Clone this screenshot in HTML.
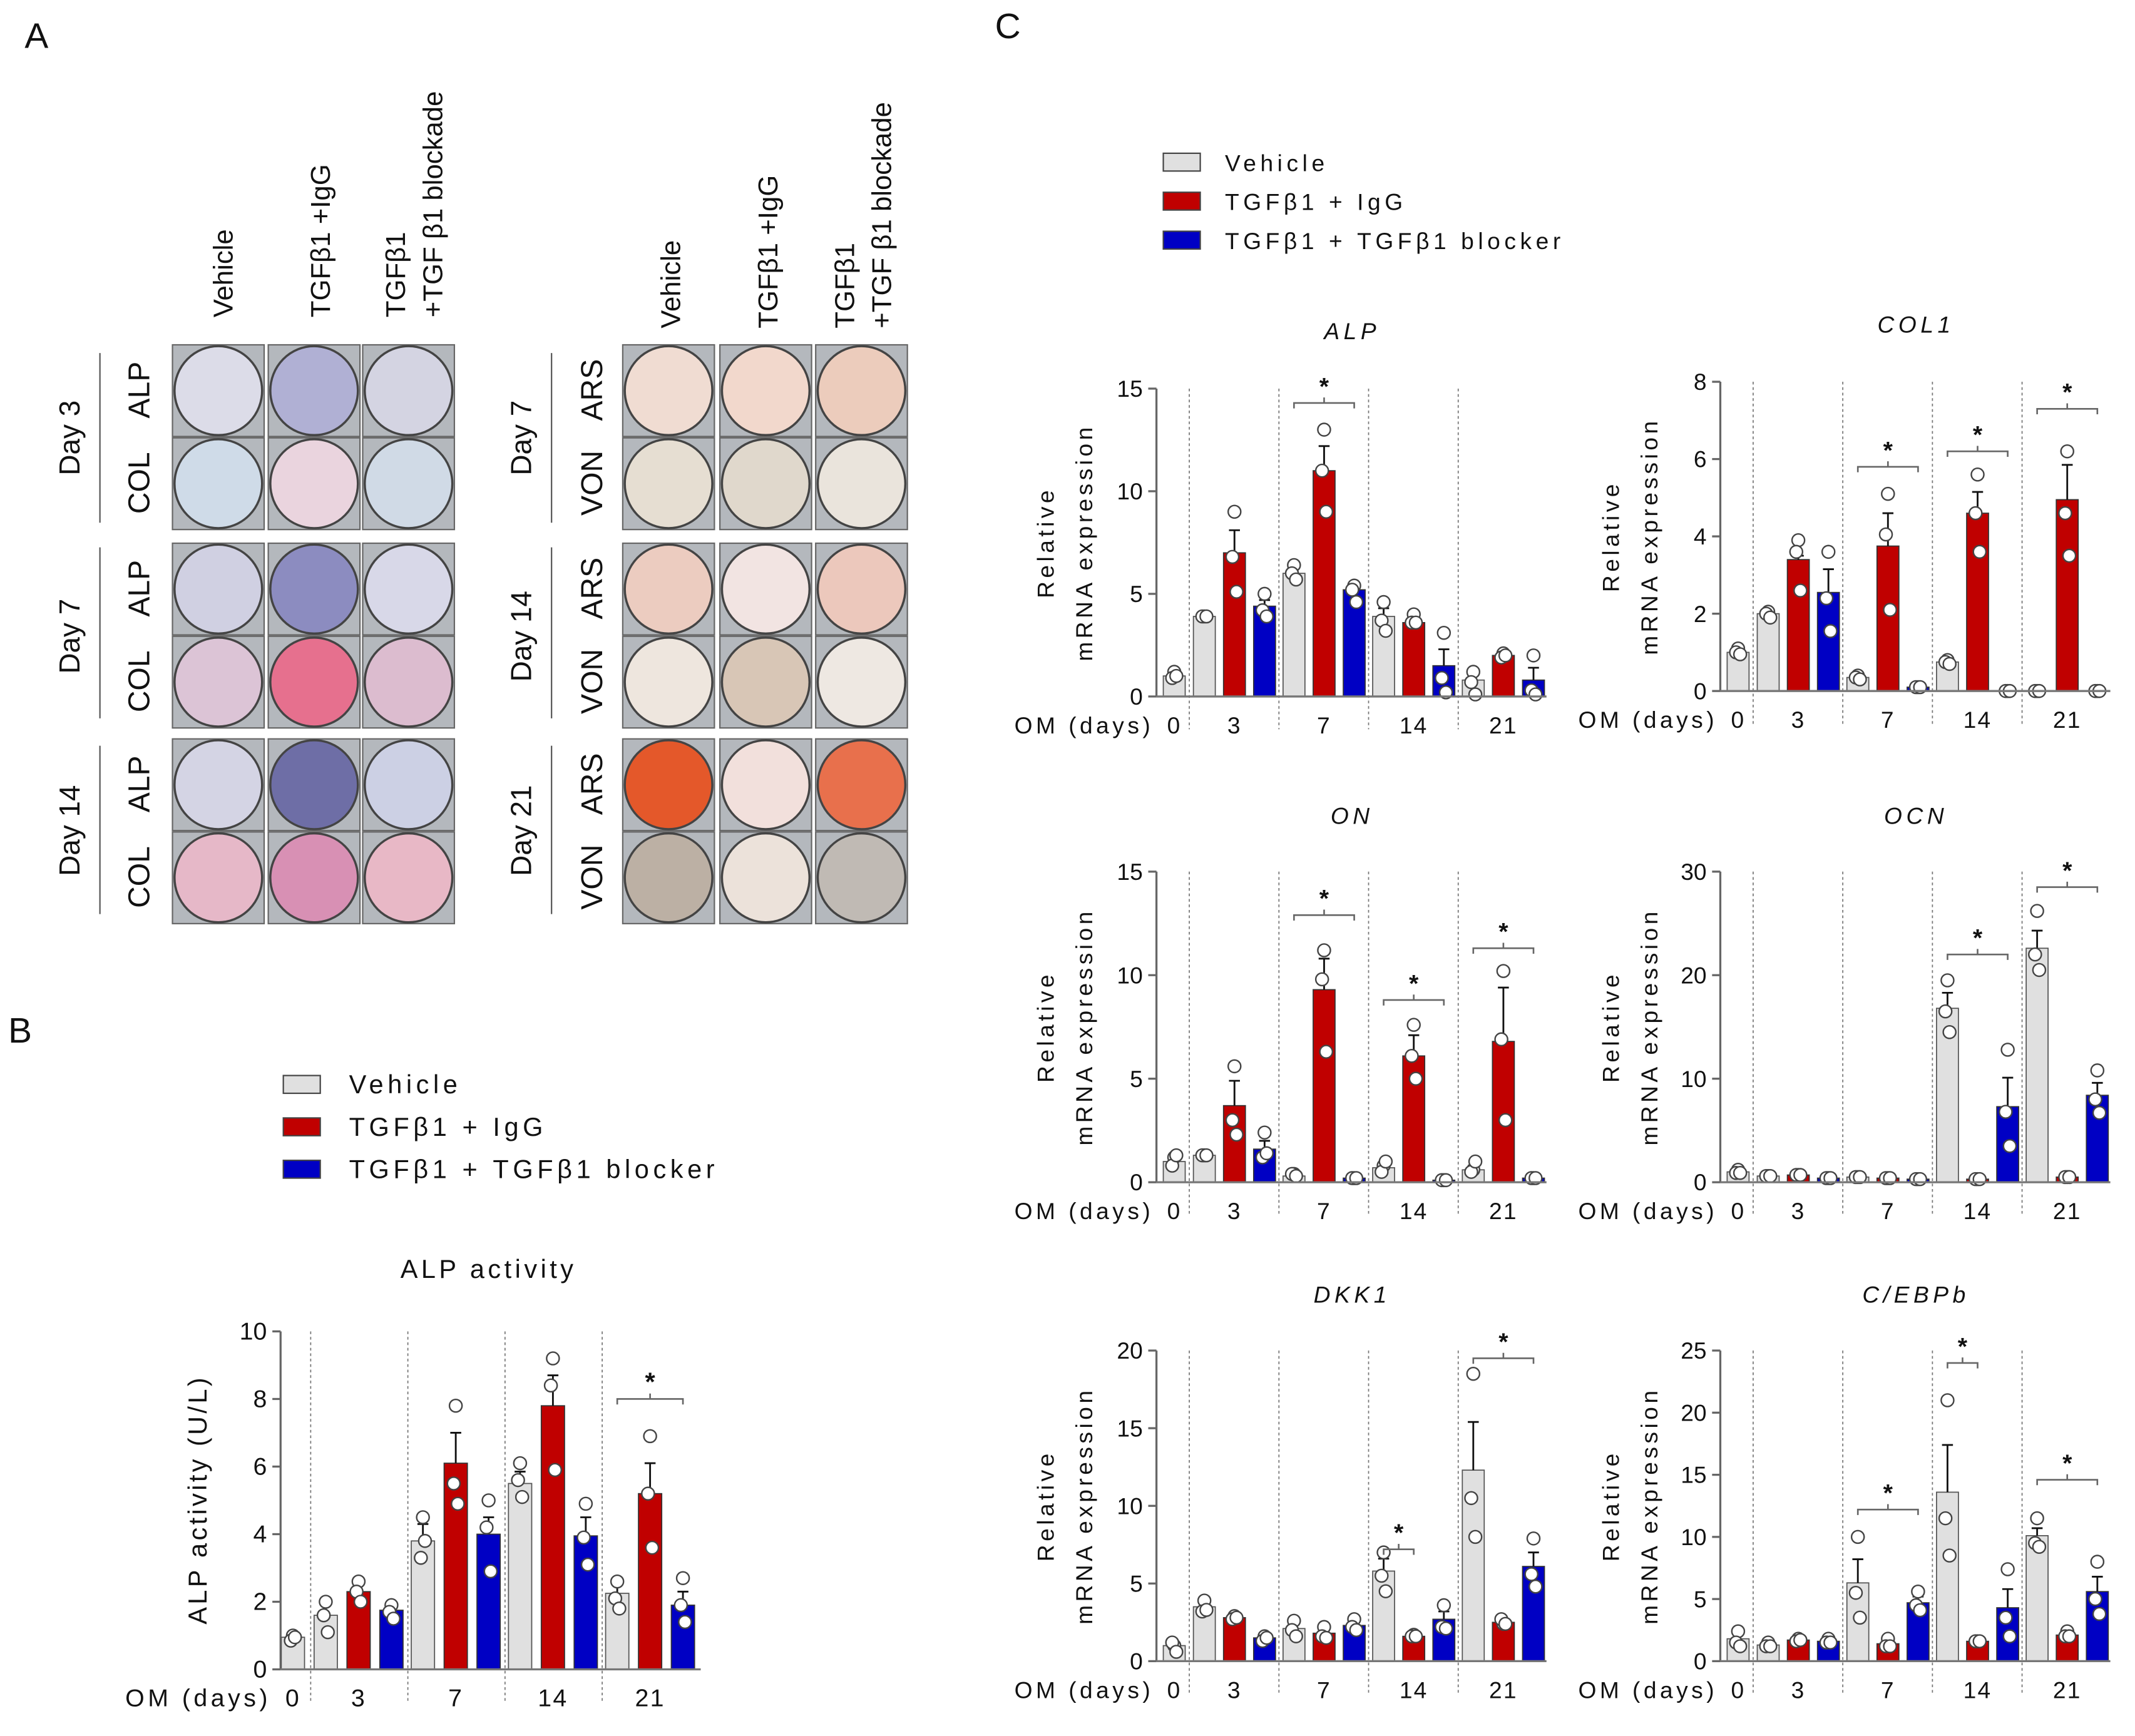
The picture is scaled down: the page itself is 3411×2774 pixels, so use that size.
<!DOCTYPE html>
<html><head><meta charset="utf-8"><style>
html,body{margin:0;padding:0;background:#fff;}
svg{display:block;}
text{font-family:"Liberation Sans",sans-serif;fill:#111;}
</style></head><body>
<svg id="fig" width="3411" height="2774" viewBox="0 0 1560 1268.7" xmlns="http://www.w3.org/2000/svg">
<rect width="1560" height="1269" fill="#fff"/>
<g id="panelA"></g>
<g id="panelB"></g>
<g id="panelC"></g>
</svg>
<script>
// ---------- Panel B data ----------
const groups = ["0","3","7","14","21"];
const bVehicle = [0.95,1.6,3.8,5.5,2.25];
const bIgG = [null,2.3,6.1,7.8,5.2];
const bBlocker = [null,1.75,4.0,3.95,1.9];
const bVehErr = [0.1,0.3,0.5,0.35,0.3];
const bIgGErr = [null,0.3,0.9,0.9,0.9];
const bBlkErr = [null,0.2,0.5,0.55,0.4];
const bVehPts = [[1.0,0.85,0.95],[2.0,1.6,1.1],[4.5,3.3,3.8],[6.1,5.6,5.1],[2.6,2.1,1.8]];
const bIgGPts = [null,[2.6,2.3,2.0],[7.8,5.5,4.9],[9.2,8.4,5.9],[6.9,5.2,3.6]];
const bBlkPts = [null,[1.9,1.7,1.5],[5.0,4.2,2.9],[4.9,3.9,3.1],[2.7,1.9,1.4]];
const bTicks = [0,2,4,6,8,10];
const bSig = [[4,0,2,8.0]];

// ---------- Panel C data ----------
const alpVehicle=[1.0,3.9,6.0,3.9,0.8], alpIgG=[null,7.0,11.0,3.6,2.0], alpBlocker=[null,4.4,5.2,1.5,0.8];
const alpVehErr=[0.2,0.1,0.3,0.4,0.4], alpIgGErr=[null,1.1,1.2,0.2,0.1], alpBlkErr=[null,0.3,0.2,0.8,0.6];
const alpVehPts=[[1.2,0.9,1.0],[3.9,3.9,3.9],[6.4,6.0,5.7],[4.6,3.7,3.2],[1.2,0.7,0.1]];
const alpIgGPts=[null,[9.0,6.8,5.1],[13.0,11.0,9.0],[4.0,3.6,3.6],[2.1,1.9,2.0]];
const alpBlkPts=[null,[5.0,4.2,3.9],[5.4,5.2,4.6],[3.1,0.9,0.2],[2.0,0.3,0.1]];
const alpTicks=[0,5,10,15]; const alpSig=[[2,0,2,14.3]];

const colVehicle=[1.0,2.0,0.35,0.75,0], colIgG=[null,3.4,3.75,4.6,4.95], colBlocker=[null,2.55,0.1,0,0];
const colVehErr=[0.05,0.05,0.05,0.05,0], colIgGErr=[null,0.1,0.85,0.55,0.9], colBlkErr=[null,0.6,0,0,0];
const colVehPts=[[1.1,1.0,0.95],[2.05,2.0,1.9],[0.4,0.35,0.3],[0.8,0.75,0.7],[0,0,0]];
const colIgGPts=[null,[3.9,3.6,2.6],[5.1,4.05,2.1],[5.6,4.6,3.6],[6.2,4.6,3.5]];
const colBlkPts=[null,[3.6,2.4,1.55],[0.1,0.1,0.1],[0,0,0],[0,0,0]];
const colTicks=[0,2,4,6,8]; const colSig=[[2,0,2,5.8],[3,0,2,6.2],[4,0,2,7.3]];

const onVehicle=[1.0,1.3,0.3,0.7,0.6], onIgG=[null,3.7,9.3,6.1,6.8], onBlocker=[null,1.6,0.2,0.1,0.2];
const onVehErr=[0.2,0.1,0.05,0.2,0.2], onIgGErr=[null,1.2,1.5,1.0,2.6], onBlkErr=[null,0.4,0,0,0];
const onVehPts=[[1.2,0.8,1.3],[1.3,1.3,1.3],[0.4,0.4,0.3],[0.8,0.5,1.0],[0.6,0.5,1.0]];
const onIgGPts=[null,[5.6,3.0,2.3],[11.2,9.8,6.3],[7.6,6.1,5.0],[10.2,6.9,3.0]];
const onBlkPts=[null,[2.4,1.2,1.4],[0.2,0.2,0.2],[0.1,0.1,0.1],[0.2,0.2,0.2]];
const onTicks=[0,5,10,15]; const onSig=[[2,0,2,12.9],[3,0,2,8.8],[4,0,2,11.3]];

const ocnVehicle=[1.0,0.6,0.5,16.8,22.6], ocnIgG=[null,0.7,0.4,0.3,0.5], ocnBlocker=[null,0.4,0.3,7.3,8.4];
const ocnVehErr=[0.2,0.1,0.1,1.5,1.7], ocnIgGErr=[null,0.1,0.1,0,0.1], ocnBlkErr=[null,0.1,0,2.8,1.2];
const ocnVehPts=[[1.2,0.9,0.9],[0.6,0.6,0.6],[0.5,0.5,0.5],[19.5,16.5,14.5],[26.2,22.0,20.5]];
const ocnIgGPts=[null,[0.7,0.7,0.7],[0.4,0.4,0.4],[0.3,0.3,0.3],[0.5,0.5,0.5]];
const ocnBlkPts=[null,[0.4,0.4,0.4],[0.3,0.3,0.3],[12.8,6.8,3.5],[10.8,8.0,6.7]];
const ocnTicks=[0,10,20,30]; const ocnSig=[[3,0,2,22],[4,0,2,28.5]];

const dkkVehicle=[1.0,3.5,2.1,5.8,12.3], dkkIgG=[null,2.8,1.8,1.6,2.5], dkkBlocker=[null,1.5,2.3,2.7,6.1];
const dkkVehErr=[0.2,0.3,0.3,0.8,3.1], dkkIgGErr=[null,0.1,0.2,0.1,0.1], dkkBlkErr=[null,0.1,0.2,0.5,0.9];
const dkkVehPts=[[1.0,1.2,0.6],[3.9,3.2,3.3],[2.6,2.0,1.6],[7.0,5.5,4.5],[18.5,10.5,8.0]];
const dkkIgGPts=[null,[2.9,2.7,2.8],[2.2,1.6,1.5],[1.7,1.6,1.6],[2.4,2.7,2.4]];
const dkkBlkPts=[null,[1.6,1.3,1.5],[2.7,2.2,2.0],[3.6,2.2,2.1],[7.9,5.6,4.8]];
const dkkTicks=[0,5,10,15,20]; const dkkSig=[[3,0,1,7.2],[4,0,2,19.5]];

const cebVehicle=[1.8,1.3,6.3,13.6,10.1], cebIgG=[null,1.7,1.4,1.6,2.1], cebBlocker=[null,1.6,4.7,4.3,5.6];
const cebVehErr=[0.4,0.1,1.9,3.8,0.6], cebIgGErr=[null,0.1,0.2,0.1,0.2], cebBlkErr=[null,0.1,0.5,1.5,1.2];
const cebVehPts=[[2.4,1.5,1.2],[1.5,1.2,1.2],[10,5.5,3.5],[21,11.5,8.5],[11.5,9.5,9.2]];
const cebIgGPts=[null,[1.8,1.6,1.7],[1.8,1.2,1.2],[1.6,1.6,1.6],[2.4,2.0,2.0]];
const cebBlkPts=[null,[1.8,1.5,1.5],[5.6,4.5,4.1],[7.4,3.5,2.0],[8.0,5.0,3.8]];
const cebTicks=[0,5,10,15,20,25]; const cebSig=[[2,0,2,12.2],[3,0,1,24],[4,0,2,14.6]];

const NS="http://www.w3.org/2000/svg";
function mk(parent,tag,attrs,txt){const e=document.createElementNS(NS,tag);for(const k in attrs)e.setAttribute(k,attrs[k]);if(txt!==undefined)e.textContent=txt;parent.appendChild(e);return e;}
const FILL=["#e0e0e0","#c00000","#0000c4"];

function drawBars(g,o){
  const ys=v=>o.y0-(v/o.max)*(o.y0-o.yTop);
  const xs=(gi,s)=>gi===0?o.firstX:o.divX0+o.groupW*(gi-1)+o.off+o.pitch*s;
  for(let i=0;i<4;i++){const dx=o.divX0+o.groupW*i;const l=mk(g,'line',{x1:dx,x2:dx,y1:o.yTop,y2:o.y0+24,stroke:'#777','stroke-width':0.8,'stroke-dasharray':'2,2'});
    }
  const ax=mk(g,'line',{x1:o.axisX,x2:o.axisX,y1:o.yTop,y2:o.y0,stroke:'#666','stroke-width':1.5});
  
  o.ticks.forEach(t=>{const y=ys(t);mk(g,'line',{x1:o.axisX-6,x2:o.axisX,y1:y,y2:y,stroke:'#666','stroke-width':1.5});
    const tl=mk(g,'text',{x:o.axisX-10,y:y+6,'text-anchor':'end','font-size':o.fs},String(t));
    });
  for(let gi=0;gi<groups.length;gi++){
    for(let s=0;s<3;s++){
      const v=o.series[s][gi]; if(v===null||v===undefined)continue;
      const cx=xs(gi,s), y=ys(v);
      const r=mk(g,'rect',{x:cx-o.bw/2,y:y,width:o.bw,height:Math.max(0,o.y0-y),fill:FILL[s],stroke:s===0?'#555':'#333','stroke-width':0.8});
      
      
      const e=o.errs[s][gi]; if(e){const ye=ys(v+e);mk(g,'line',{x1:cx,x2:cx,y1:y,y2:ye,stroke:'#111','stroke-width':1.3});mk(g,'line',{x1:cx-4,x2:cx+4,y1:ye,y2:ye,stroke:'#111','stroke-width':1.3});}
      const p=o.pts[s][gi]; if(p){const offs=[0,-1.5,1.5];p.forEach((pv,k)=>{const c=mk(g,'circle',{cx:cx+offs[k],cy:ys(pv),r:4.6,fill:'#fff',stroke:'#444','stroke-width':1.1});
        });}
    }
  }
  const bl=mk(g,'line',{x1:o.axisX,x2:o.endX,y1:o.y0,y2:o.y0,stroke:'#777','stroke-width':1.5});
  
  const om=mk(g,'text',{x:o.labelX,y:o.y0+27,'text-anchor':'end','font-size':o.fs,'letter-spacing':2.5},'OM (days)');
  
  groups.forEach((gl,gi)=>{const x=gi===0?o.firstX:xs(gi,1);const t=mk(g,'text',{x:x,y:o.y0+27,'text-anchor':'middle','font-size':o.fs,'letter-spacing':1},gl);
    });
  o.sig.forEach(sg=>{const x1=xs(sg[0],sg[1]),x2=xs(sg[0],sg[2]),y=ys(sg[3]);
    mk(g,'path',{d:`M${x1},${y+4}V${y}H${x2}V${y+4}M${(x1+x2)/2},${y}v-4`,fill:'none',stroke:'#666','stroke-width':1.2});
    const st=mk(g,'text',{x:(x1+x2)/2,y:y-6,'text-anchor':'middle','font-size':o.fs+1,'font-weight':'bold'},'*');
    });
}

// ---------- Panel A ----------
(function(){
  const g=document.getElementById('panelA');
  const A=mk(g,'text',{x:18,y:35,'font-size':26},'A');
  const rowsY=[252,320,397,465,540,608], H=67;
  const leftX=[126,196,265], rightX=[455,526,596];
  const leftC=[["#dcdce8","#b0b0d4","#d4d4e2"],["#cfdbe8","#ead4de","#d0dae6"],["#d0d0e2","#8c8cc0","#d8d8e8"],["#dcc4d6","#e6708e","#dcbccf"],["#d4d4e4","#6e6ea6","#ccd0e4"],["#e6b8c8","#d890b4","#e8b8c6"]];
  const rightC=[["#f0dcd2","#f2d8cc","#ecccbc"],["#e6ded2","#e0d8cc","#eae4dc"],["#ecccc0","#f2e4e2","#ecc8bc"],["#eee6de","#d8c6b6","#eee8e2"],["#e4582a","#f2e0dc","#e8704c"],["#bcb0a4","#ece2da","#c0bab4"]];
  function wells(xs,cols){rowsY.forEach((y,ri)=>xs.forEach((x,ci)=>{
    const w=mk(g,'rect',{x:x,y:y,width:67,height:H,fill:'#b4b8bd',stroke:'#666','stroke-width':1});
    
    mk(g,'ellipse',{cx:x+33.5,cy:y+33.5,rx:32,ry:32.5,fill:cols[ri][ci],stroke:'#444','stroke-width':1.6});
  }));}
  wells(leftX,leftC);wells(rightX,rightC);
  function vt(x,y,t,fs,anchor){const e=mk(g,'text',{x:0,y:0,transform:`translate(${x},${y}) rotate(-90)`,'font-size':fs,'text-anchor':anchor||'middle'},t);
    return e;}
  vt(170,232,'Vehicle',20,'start');vt(241,232,'TGFβ1 +IgG',20,'start');vt(296,232,'TGFβ1',20,'start');vt(323,232,'+TGF β1 blockade',20,'start');
  vt(497,240,'Vehicle',20,'start');vt(568,240,'TGFβ1 +IgG',20,'start');vt(624,240,'TGFβ1',20,'start');vt(651,240,'+TGF β1 blockade',20,'start');
  [["Day 3",320],["Day 7",465],["Day 14",607]].forEach(d=>vt(58,d[1],d[0],21));
  [["Day 7",320],["Day 14",465],["Day 21",607]].forEach(d=>vt(388,d[1],d[0],21));
  rowsY.forEach((y,i)=>{vt(109,y+33,i%2?'COL':'ALP',22);vt(440,y+33,i%2?'VON':'ARS',22);});
  [[258,382],[400,525],[545,668]].forEach(s=>{mk(g,'line',{x1:73,x2:73,y1:s[0],y2:s[1],stroke:'#555','stroke-width':1});mk(g,'line',{x1:403,x2:403,y1:s[0],y2:s[1],stroke:'#555','stroke-width':1});});
})();

function legend(g,x,y0,dy,fs,tx){
  const labels=["Vehicle","TGFβ1 + IgG","TGFβ1 + TGFβ1 blocker"];
  labels.forEach((l,i)=>{const r=mk(g,'rect',{x:x,y:y0+dy*i-7,width:27,height:13,fill:FILL[i],stroke:'#444','stroke-width':1});
    
    const t=mk(g,'text',{x:tx,y:y0+dy*i+6,'font-size':fs,'letter-spacing':3},l);
    });
}

// ---------- Panel B ----------
(function(){
  const g=document.getElementById('panelB');
  const B=mk(g,'text',{x:6,y:762,'font-size':26},'B');
  legend(g,207,793,31,19,255);
  const t=mk(g,'text',{x:357,y:934,'text-anchor':'middle','font-size':19,'letter-spacing':2.5},'ALP activity');
  const yl=mk(g,'text',{x:0,y:0,transform:'translate(151,1096) rotate(-90)','text-anchor':'middle','font-size':19,'letter-spacing':2},'ALP activity (U/L)');
  drawBars(g,{axisX:205,y0:1220,yTop:973,max:10,ticks:bTicks,firstX:214,divX0:227,groupW:71,off:11,pitch:24,bw:17,
    series:[bVehicle,bIgG,bBlocker],errs:[bVehErr,bIgGErr,bBlkErr],pts:[bVehPts,bIgGPts,bBlkPts],sig:bSig,endX:512,fs:18,labelX:198});
})();

// ---------- Panel C ----------
(function(){
  const g=document.getElementById('panelC');
  const C=mk(g,'text',{x:727,y:28,'font-size':26},'C');
  legend(g,850,119,28.5,17,895);
  const charts=[
    {name:'ALP',col:0,y0:509,yTop:284,max:15,ticks:alpTicks,s:[alpVehicle,alpIgG,alpBlocker],e:[alpVehErr,alpIgGErr,alpBlkErr],p:[alpVehPts,alpIgGPts,alpBlkPts],sig:alpSig,ty:248},
    {name:'COL1',col:1,y0:505,yTop:279,max:8,ticks:colTicks,s:[colVehicle,colIgG,colBlocker],e:[colVehErr,colIgGErr,colBlkErr],p:[colVehPts,colIgGPts,colBlkPts],sig:colSig,ty:243},
    {name:'ON',col:0,y0:864,yTop:637,max:15,ticks:onTicks,s:[onVehicle,onIgG,onBlocker],e:[onVehErr,onIgGErr,onBlkErr],p:[onVehPts,onIgGPts,onBlkPts],sig:onSig,ty:602},
    {name:'OCN',col:1,y0:864,yTop:637,max:30,ticks:ocnTicks,s:[ocnVehicle,ocnIgG,ocnBlocker],e:[ocnVehErr,ocnIgGErr,ocnBlkErr],p:[ocnVehPts,ocnIgGPts,ocnBlkPts],sig:ocnSig,ty:602},
    {name:'DKK1',col:0,y0:1214,yTop:987,max:20,ticks:dkkTicks,s:[dkkVehicle,dkkIgG,dkkBlocker],e:[dkkVehErr,dkkIgGErr,dkkBlkErr],p:[dkkVehPts,dkkIgGPts,dkkBlkPts],sig:dkkSig,ty:952},
    {name:'C/EBPb',col:1,y0:1214,yTop:987,max:25,ticks:cebTicks,s:[cebVehicle,cebIgG,cebBlocker],e:[cebVehErr,cebIgGErr,cebBlkErr],p:[cebVehPts,cebIgGPts,cebBlkPts],sig:cebSig,ty:952}
  ];
  charts.forEach(c=>{
    const sub=mk(g,'g',{});
    const base=c.col===0?0:412;
    const tx=(c.col===0?988:1400);
    const t=mk(sub,'text',{x:tx,y:c.ty,'text-anchor':'middle','font-size':17,'font-style':'italic','letter-spacing':3},c.name);
    
    const mid=(c.y0+c.yTop)/2;
    const ylx=c.col===0?770:1183;
    const y1=mk(sub,'text',{x:0,y:0,transform:`translate(${ylx},${mid}) rotate(-90)`,'text-anchor':'middle','font-size':17,'letter-spacing':2.5},'Relative');
    
    const y2=mk(sub,'text',{x:0,y:0,transform:`translate(${ylx+28},${mid}) rotate(-90)`,'text-anchor':'middle','font-size':17,'letter-spacing':2.5},'mRNA expression');
    
    drawBars(sub,{axisX:845+base,y0:c.y0,yTop:c.yTop,max:c.max,ticks:c.ticks,firstX:858+base,divX0:869+base,groupW:65.5,off:11,pitch:22,bw:16,
      series:c.s,errs:c.e,pts:c.p,sig:c.sig,endX:1130+base,fs:17,labelX:843+base});
  });
})();
</script>
</body></html>
